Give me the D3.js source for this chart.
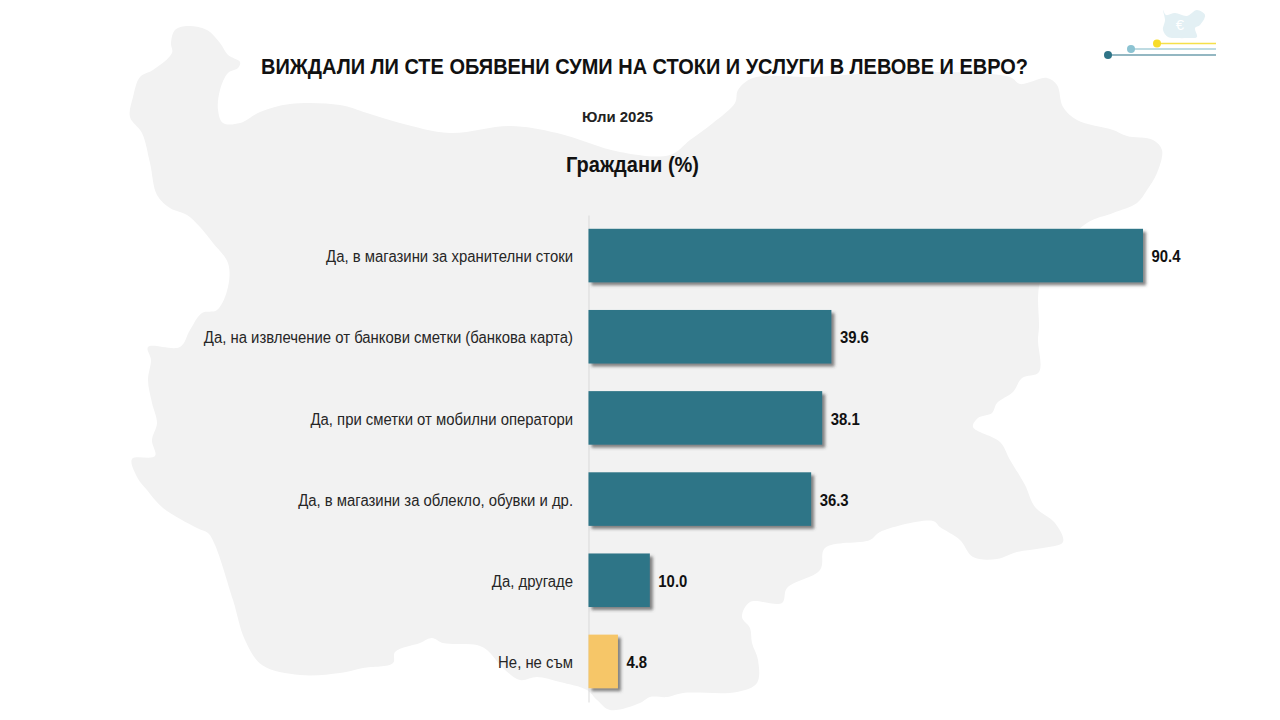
<!DOCTYPE html>
<html>
<head>
<meta charset="utf-8">
<script src="https://cdn.jsdelivr.net/npm/d3@7"></script>
<style>
  html, body { margin: 0; padding: 0; background: #fff; }
  svg { display: block; }
  text { font-family: "Liberation Sans", Arial, sans-serif; }
</style>
</head>
<body>
<div id="chart"></div>
<script>
const categories = [
  'Да, в магазини за хранителни стоки',
  'Да, на извлечение от банкови сметки (банкова карта)',
  'Да, при сметки от мобилни оператори',
  'Да, в магазини за облекло, обувки и др.',
  'Да, другаде',
  'Не, не съм'
];
const values = [90.4, 39.6, 38.1, 36.3, 10.0, 4.8];
const barColors = ['#2f7487', '#2f7487', '#2f7487', '#2f7487', '#2f7487', '#f6c667'];

// background silhouette, traced by hand
const mapOutline = [
  [171,43],[175,30],[188,26],[207,30],[220,43],[228,55],[240,62],[238,68],[228,73],[220,90],[218,110],[223,123],
  [240,123],[260,112],[290,104],[340,105],[367,113],[400,123],[450,133],[510,126],[557,133],[620,152],[670,155],
  [690,140],[713,123],[735,103],[738,90],[753,78],[813,77],[900,72],[1010,77],[1020,84],[1047,78],[1057,85],
  [1063,107],[1077,120],[1113,130],[1127,136],[1153,140],[1162,150],[1157,173],[1147,190],[1137,203],[1113,213],
  [1087,223],[1050,260],[1039,287],[1039,327],[1038,340],[1039,372],[1022,378],[1013,392],[997,403],[992,413],
  [978,418],[973,427],[1000,442],[1010,460],[1025,485],[1035,507],[1055,523],[1063,542],[1043,548],[1017,552],
  [997,559],[973,557],[960,540],[940,527],[933,521],[880,532],[870,540],[825,548],[820,570],[787,588],[782,603],
  [750,602],[742,617],[750,628],[752,643],[758,660],[757,683],[737,692],[683,693],[667,697],[650,697],[640,703],
  [610,710],[597,700],[587,690],[560,682],[537,677],[520,680],[503,668],[487,650],[477,645],[443,643],[432,638],
  [420,643],[395,652],[393,663],[363,668],[340,673],[300,675],[262,665],[245,640],[233,600],[215,545],[208,533],
  [197,528],[163,508],[147,490],[137,477],[132,459],[155,456],[152,440],[157,423],[152,403],[148,380],[151,360],
  [148,347],[180,347],[190,330],[202,313],[217,310],[228,287],[228,263],[213,243],[200,227],[187,215],[170,208],
  [157,195],[150,163],[142,133],[130,117],[133,97],[140,77],[153,70],[172,53]
];
const logoMap = [
  [1163,10],[1166,15],[1175,13],[1187,16],[1197,10],[1205,15],[1200,25],[1195,28],[1197,37],[1187,38],[1177,38],[1168,37],[1163,30],[1165,20]
];
const logoLines = [
  { x: 1157, y: 43.5, color: '#f5e04a', dot: '#f7dc2a' },
  { x: 1131, y: 49, color: '#a9cfd8', dot: '#8cc3d2' },
  { x: 1108, y: 55, color: '#6f9fae', dot: '#2f7487' }
];

const width = 1280, height = 720;

const svg = d3.select('#chart').append('svg')
  .attr('width', width)
  .attr('height', height);

const shadow = svg.append('defs').append('filter')
  .attr('id', 'barShadow')
  .attr('x', '-10%').attr('y', '-10%')
  .attr('width', '130%').attr('height', '130%');
shadow.append('feDropShadow')
  .attr('dx', 3).attr('dy', 3)
  .attr('stdDeviation', 1.4)
  .attr('flood-color', '#444')
  .attr('flood-opacity', 0.65);

// the reference type is tall and narrow, so squeeze the glyphs a bit
function squeeze(sel, factor) {
  sel.each(function () {
    const len = this.getComputedTextLength();
    d3.select(this)
      .attr('textLength', len * factor)
      .attr('lengthAdjust', 'spacingAndGlyphs');
  });
}

const outline = d3.line().curve(d3.curveCatmullRomClosed.alpha(0.5));

svg.append('path')
  .attr('d', outline(mapOutline))
  .attr('fill', '#f2f2f2');

// logo top right
svg.append('path')
  .attr('d', outline(logoMap))
  .attr('fill', '#e3f0f4');
svg.append('text')
  .attr('x', 1180).attr('y', 30)
  .attr('text-anchor', 'middle')
  .attr('font-size', 15)
  .attr('fill', '#fff')
  .text('€');
logoLines.forEach(l => {
  svg.append('line')
    .attr('x1', l.x).attr('x2', 1216)
    .attr('y1', l.y).attr('y2', l.y)
    .attr('stroke', l.color)
    .attr('stroke-width', 1.5);
  svg.append('circle')
    .attr('cx', l.x).attr('cy', l.y)
    .attr('r', 4)
    .attr('fill', l.dot);
});

// titles
svg.append('text')
  .attr('x', 644.5).attr('y', 74)
  .attr('text-anchor', 'middle')
  .attr('font-size', 21.5)
  .attr('font-weight', 'bold')
  .attr('fill', '#111')
  .attr('textLength', 767)
  .attr('lengthAdjust', 'spacingAndGlyphs')
  .text('ВИЖДАЛИ ЛИ СТЕ ОБЯВЕНИ СУМИ НА СТОКИ И УСЛУГИ В ЛЕВОВЕ И ЕВРО?');
svg.append('text')
  .attr('x', 617.5).attr('y', 122)
  .attr('text-anchor', 'middle')
  .attr('font-size', 15.5)
  .attr('font-weight', 'bold')
  .attr('fill', '#222')
  .attr('textLength', 71)
  .attr('lengthAdjust', 'spacingAndGlyphs')
  .text('Юли 2025');
svg.append('text')
  .attr('x', 632.5).attr('y', 172)
  .attr('text-anchor', 'middle')
  .attr('font-size', 22)
  .attr('font-weight', 'bold')
  .attr('fill', '#111')
  .attr('textLength', 133)
  .attr('lengthAdjust', 'spacingAndGlyphs')
  .text('Граждани (%)');

const x = d3.scaleLinear().domain([0, 100]).range([588.5, 1201.9]);
const y = d3.scaleBand().domain(categories).range([215, 702]).paddingInner(0.34).paddingOuter(0.17);

const yAxis = d3.axisLeft(y).tickSize(0).tickPadding(15.5);
const axisG = svg.append('g')
  .attr('transform', `translate(${x(0)},0)`)
  .call(yAxis);
axisG.select('.domain').attr('stroke', '#d9d9d9');
axisG.selectAll('text')
  .attr('font-size', 16)
  .attr('fill', '#262626')
  .attr('dy', '0.42em')
  .style('font-family', '"Liberation Sans", Arial, sans-serif')
  .call(squeeze, 0.93);

svg.selectAll('rect.bar')
  .data(values)
  .join('rect')
  .attr('class', 'bar')
  .attr('x', x(0))
  .attr('y', (d, i) => y(categories[i]))
  .attr('width', d => x(d) - x(0))
  .attr('height', y.bandwidth())
  .attr('fill', (d, i) => barColors[i])
  .attr('filter', 'url(#barShadow)');

svg.selectAll('text.value')
  .data(values)
  .join('text')
  .attr('class', 'value')
  .attr('x', d => x(d) + 8.5)
  .attr('y', (d, i) => y(categories[i]) + y.bandwidth() / 2)
  .attr('dy', '0.42em')
  .attr('font-size', 16)
  .attr('font-weight', 'bold')
  .attr('fill', '#111')
  .text(d => d.toFixed(1))
  .call(squeeze, 0.93);
</script>
</body>
</html>
